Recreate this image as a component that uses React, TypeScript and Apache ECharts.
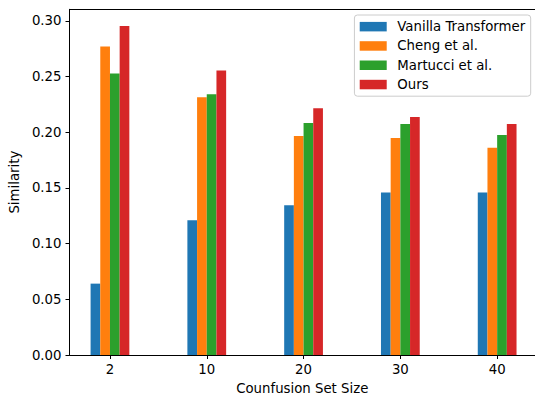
import React, { useEffect, useRef } from "react";
import * as echarts from "echarts";

const categories = ["2", "10", "20", "30", "40"];
const seriesNames = ["Vanilla Transformer", "Cheng et al.", "Martucci et al.", "Ours"];
const vanilla = [0.0641, 0.1211, 0.1345, 0.146, 0.146];
const cheng = [0.277, 0.2315, 0.1968, 0.195, 0.1861];
const martucci = [0.2529, 0.2342, 0.2084, 0.2075, 0.1977];
const ours = [0.2956, 0.2556, 0.2217, 0.2137, 0.2075];
const colors = ["#1f77b4", "#ff7f0e", "#2ca02c", "#d62728"];
const yTicks = [0, 0.05, 0.1, 0.15, 0.2, 0.25, 0.3];

const FONT = "DejaVu Sans";
const FS = 13.3;

export default function App() {
  const ref = useRef<HTMLDivElement>(null);
  useEffect(() => {
    if (!ref.current) return;
    const chart = echarts.init(ref.current, undefined, { renderer: "svg" });
    const allData = [vanilla, cheng, martucci, ours];
    const xMin = -0.418;
    const xMax = 4.391;
    chart.setOption({
      animation: false,
      textStyle: { fontFamily: FONT },
      grid: { left: 69, right: 0, top: 9.3, bottom: 42 },
      xAxis: [
        {
          type: "value",
          min: xMin,
          max: xMax,
          position: "bottom",
          splitLine: { show: false },
          axisLine: { show: true, onZero: false, lineStyle: { color: "#000", width: 1 } },
          axisTick: {
            show: true,
            length: 4,
            lineStyle: { color: "#000", width: 1 },
            customValues: categories.map((_, i) => i),
          },
          axisLabel: {
            show: true,
            margin: 8,
            color: "#000",
            fontSize: FS,
            fontFamily: FONT,
            customValues: categories.map((_, i) => i),
            formatter: (v: number) => categories[Math.round(v)] ?? "",
          },
          name: "Counfusion Set Size",
          nameLocation: "middle",
          nameGap: 27,
          nameTextStyle: { color: "#000", fontSize: FS, fontFamily: FONT },
        },
        {
          type: "value",
          min: xMin,
          max: xMax,
          position: "top",
          splitLine: { show: false },
          axisLine: { show: true, onZero: false, lineStyle: { color: "#000", width: 1 } },
          axisTick: { show: false },
          axisLabel: { show: false },
        },
      ],
      yAxis: {
        type: "value",
        min: 0,
        max: 0.3105,
        interval: 0.05,
        position: "left",
        splitLine: { show: false },
        axisLine: { show: true, onZero: false, lineStyle: { color: "#000", width: 1 } },
        axisTick: {
          show: true,
          length: 4,
          lineStyle: { color: "#000", width: 1 },
          customValues: yTicks,
        },
        axisLabel: {
          margin: 8,
          color: "#000",
          fontSize: FS,
          fontFamily: FONT,
          customValues: yTicks,
          formatter: (v: number) => v.toFixed(2),
        },
        name: "Similarity",
        nameLocation: "middle",
        nameGap: 43,
        nameTextStyle: { color: "#000", fontSize: FS, fontFamily: FONT },
      },
      legend: {
        orient: "vertical",
        right: 4.3,
        top: 15,
        padding: [5, 5.5, 5, 5.3],
        itemWidth: 27,
        itemHeight: 9.5,
        itemGap: 6,
        icon: "rect",
        borderColor: "#cccccc",
        borderWidth: 1,
        borderRadius: 3,
        backgroundColor: "rgba(255,255,255,0.8)",
        textStyle: {
          color: "#000",
          fontSize: FS,
          fontFamily: FONT,
          lineHeight: 13.3,
          padding: [0, 0, 0, 5.6],
        },
        data: seriesNames,
      },
      series: seriesNames.map((name, s) => ({
        name,
        type: "bar",
        xAxisIndex: 0,
        barWidth: 9.69,
        barGap: "0%",
        itemStyle: { color: colors[s] },
        data: allData[s].map((v, i) => [i, v]),
      })),
    });
    return () => chart.dispose();
  }, []);
  return <div ref={ref} style={{ width: 535, height: 400, position: "absolute", left: 0, top: 0 }} />;
}
